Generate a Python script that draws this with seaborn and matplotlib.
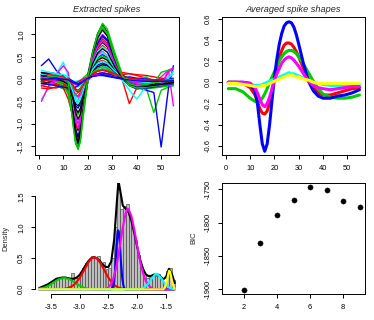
import numpy as np
import pandas as pd
import matplotlib
matplotlib.use("Agg")
import matplotlib.pyplot as plt
import seaborn as sns

# ---- data -----------------------------------------------------------------
# extracted spike waveforms (sample index vs amplitude)
spike_x = [1, 4, 7, 10, 12, 14, 15, 16, 17, 18, 20, 22, 24, 26, 28, 31, 34, 37, 40, 44, 47, 50, 53, 55]
spike_traces = [
    [0.05, 0.08, 0.06, 0.02, -0.15, -0.95, -1.40, -1.55, -1.28, -0.78, 0.10, 0.62, 1.02, 1.22, 1.05, 0.52, 0.10, -0.06, -0.12, -0.14, -0.10, -0.06, -0.03, 0.00],
    [0.02, -0.05, -0.10, -0.15, -0.30, -0.45, -0.52, -0.48, -0.35, -0.20, 0.05, 0.25, 0.38, 0.42, 0.36, 0.18, 0.02, -0.08, -0.13, -0.15, -0.12, -0.08, -0.06, -0.05],
    [-0.08, -0.10, -0.15, -0.22, -0.25, -0.22, -0.18, -0.12, -0.05, 0.02, 0.12, 0.22, 0.30, 0.33, 0.30, 0.20, 0.08, -0.02, -0.10, -0.16, -0.18, -0.16, -0.15, -0.14],
    [0.02, 0.00, -0.02, -0.05, -0.30, -0.90, -1.20, -1.30, -1.05, -0.60, 0.05, 0.45, 0.80, 0.95, 0.85, 0.40, 0.02, -0.15, -0.22, -0.20, -0.17, -0.13, -0.10, -0.08],
    [0.05, 0.02, 0.00, -0.02, -0.03, -0.05, -0.05, -0.04, -0.02, 0.00, 0.04, 0.08, 0.10, 0.12, 0.10, 0.05, 0.01, -0.02, -0.04, -0.05, -0.04, -0.03, -0.02, -0.02],
    [0.00, 0.02, -0.02, -0.08, -0.15, -0.30, -0.38, -0.40, -0.32, -0.18, 0.02, 0.18, 0.28, 0.32, 0.27, 0.12, 0.00, -0.06, -0.09, -0.10, -0.08, -0.06, -0.05, -0.05],
    [0.10, 0.05, 0.08, 0.00, -0.10, -0.60, -1.00, -1.15, -0.95, -0.50, 0.08, 0.45, 0.72, 0.85, 0.75, 0.38, 0.08, -0.04, -0.09, -0.11, -0.10, -0.08, -0.06, -0.05],
    [-0.05, -0.10, -0.12, -0.20, -0.45, -0.85, -1.05, -1.10, -0.90, -0.55, 0.00, 0.40, 0.65, 0.75, 0.66, 0.32, 0.00, -0.55, -0.20, -0.15, -0.12, -0.10, -0.09, -0.08],
    [-0.05, 0.00, -0.05, -0.10, -0.35, -0.90, -1.25, -1.45, -1.30, -0.85, 0.00, 0.55, 1.00, 1.25, 1.12, 0.60, 0.12, -0.06, -0.15, -0.22, -0.75, -0.25, -0.18, -0.15],
    [0.30, 0.45, 0.20, 0.05, -0.05, -0.40, -0.60, -0.65, -0.55, -0.35, 0.00, 0.30, 0.48, 0.55, 0.48, 0.25, 0.00, -0.12, -0.18, -0.25, -0.30, -1.52, -0.20, 0.30],
    [-0.45, -0.20, 0.10, 0.38, 0.05, -0.20, -0.40, -0.50, -0.40, -0.20, 0.05, 0.20, 0.30, 0.32, 0.28, 0.12, -0.02, -0.25, -0.45, -0.15, -0.05, -0.02, 0.05, 0.10],
    [-0.50, -0.15, 0.10, 0.30, 0.15, -0.80, -1.20, -1.35, -1.10, -0.60, 0.05, 0.35, 0.55, 0.62, 0.52, 0.25, 0.05, -0.05, -0.10, -0.15, -0.10, 0.05, 0.20, -0.60],
    [-0.10, -0.08, -0.05, -0.02, -0.20, -0.70, -1.10, -1.30, -1.15, -0.70, -0.05, 0.40, 0.70, 0.82, 0.72, 0.35, 0.05, -0.08, -0.12, -0.15, -0.14, -0.12, -0.10, -0.08],
    [-0.20, -0.22, -0.18, -0.15, -0.20, -0.30, -0.35, -0.38, -0.30, -0.18, 0.02, 0.15, 0.22, 0.25, 0.22, 0.12, 0.05, 0.00, -0.05, -0.10, -0.12, -0.10, -0.08, -0.08],
    [0.10, 0.05, 0.02, -0.05, -0.20, -0.50, -0.70, -0.80, -0.68, -0.40, 0.00, 0.28, 0.45, 0.52, 0.46, 0.22, 0.02, -0.12, -0.18, -0.22, -0.20, -0.18, -0.15, -0.12],
    [-0.05, -0.02, 0.00, 0.00, -0.05, -0.15, -0.25, -0.30, -0.25, -0.15, 0.05, 0.20, 0.32, 0.36, 0.32, 0.16, 0.02, -0.08, -0.12, -0.15, -0.14, -0.12, -0.10, -0.10],
    [0.15, 0.12, 0.10, 0.05, 0.00, -0.10, -0.15, -0.18, -0.14, -0.08, 0.04, 0.15, 0.22, 0.26, 0.22, 0.10, 0.00, -0.05, -0.08, -0.10, -0.08, -0.06, -0.04, -0.03],
    [0.12, 0.10, 0.05, 0.00, -0.10, -0.60, -0.95, -1.10, -0.95, -0.55, 0.05, 0.50, 0.85, 1.00, 0.88, 0.42, 0.05, -0.10, -0.15, -0.18, -0.15, -0.12, -0.08, -0.05],
    [0.00, 0.02, 0.05, 0.03, -0.05, -0.40, -0.65, -0.75, -0.65, -0.40, 0.00, 0.25, 0.42, 0.48, 0.42, 0.20, 0.02, -0.05, -0.08, -0.10, -0.08, -0.06, -0.05, -0.04],
    [0.08, 0.02, -0.05, -0.10, -0.25, -0.65, -0.90, -1.00, -0.85, -0.50, 0.00, 0.42, 0.75, 0.90, 0.80, 0.40, 0.08, -0.05, -0.10, -0.12, -0.10, -0.08, -0.08, -0.06],
    [0.05, 0.00, -0.05, -0.15, -0.30, -0.35, -0.35, -0.30, -0.22, -0.12, 0.05, 0.18, 0.25, 0.28, 0.24, 0.12, 0.02, -0.05, -0.10, -0.12, -0.12, -0.10, -0.08, -0.06],
    [0.10, 0.15, 0.12, 0.08, -0.10, -0.75, -1.20, -1.45, -1.25, -0.75, -0.05, 0.45, 0.80, 0.98, 0.88, 0.42, 0.05, -0.12, -0.18, -0.20, -0.18, -0.15, -0.12, -0.08],
    [0.00, 0.05, 0.08, 0.10, 0.05, -0.20, -0.35, -0.42, -0.35, -0.20, 0.05, 0.30, 0.50, 0.60, 0.52, 0.25, 0.02, -0.08, -0.10, -0.12, -0.10, -0.08, -0.06, -0.04],
    [-0.15, -0.10, -0.05, -0.05, -0.10, -0.25, -0.35, -0.40, -0.35, -0.25, -0.05, 0.10, 0.18, 0.20, 0.18, 0.10, 0.02, -0.05, -0.08, -0.10, -0.12, -0.15, 0.20, 0.25],
    [0.15, 0.12, 0.10, 0.08, 0.00, -0.30, -0.55, -0.60, -0.50, -0.30, 0.02, 0.18, 0.28, 0.32, 0.30, 0.18, 0.08, 0.02, -0.02, -0.05, -0.05, -0.05, -0.04, -0.03],
    [-0.15, -0.18, -0.20, -0.15, -0.12, -0.10, -0.08, -0.06, -0.03, 0.00, 0.05, 0.10, 0.12, 0.14, 0.12, 0.08, 0.15, 0.12, 0.10, 0.08, 0.05, 0.02, 0.00, -0.02],
    [0.02, -0.02, -0.05, -0.08, -0.12, -1.00, -1.40, -1.58, -1.40, -0.90, -0.05, 0.50, 0.90, 1.15, 1.00, 0.48, 0.05, -0.15, -0.20, -0.18, -0.16, -0.14, -0.12, -0.10],
    [-0.10, -0.12, -0.15, -0.18, -0.20, -0.20, -0.18, -0.15, -0.10, -0.05, 0.02, 0.08, 0.12, 0.14, 0.12, 0.08, 0.04, 0.00, -0.05, -0.08, -0.10, -0.12, -0.12, -0.10],
    [0.10, 0.08, 0.12, 0.05, -0.10, -0.55, -0.85, -1.00, -0.85, -0.50, 0.00, 0.38, 0.62, 0.72, 0.65, 0.30, 0.02, -0.10, -0.14, -0.16, -0.14, -0.12, -0.10, -0.08],
    [0.00, 0.05, 0.08, 0.02, -0.02, -0.10, -0.12, -0.12, -0.08, -0.02, 0.04, 0.08, 0.10, 0.10, 0.08, 0.04, 0.02, 0.00, -0.02, -0.04, -0.05, -0.05, -0.04, -0.04],
    [-0.02, 0.00, 0.02, 0.00, -0.08, -0.80, -1.25, -1.42, -1.20, -0.70, 0.05, 0.55, 0.92, 1.10, 0.96, 0.45, 0.06, -0.08, -0.12, -0.14, -0.12, -0.10, -0.08, -0.06],
    [0.05, 0.10, 0.08, 0.05, 0.00, -0.15, -0.22, -0.25, -0.20, -0.12, 0.02, 0.12, 0.18, 0.20, 0.17, 0.08, 0.10, 0.12, 0.08, 0.02, -0.02, -0.05, -0.06, -0.06],
    [0.00, 0.02, 0.00, -0.02, -0.10, -0.20, -0.25, -0.28, -0.22, -0.12, 0.04, 0.15, 0.20, 0.22, 0.20, 0.10, 0.05, 0.02, 0.00, 0.05, -0.10, 0.15, 0.20, 0.22],
    [0.05, 0.00, -0.02, 0.00, 0.02, -0.05, -0.08, -0.10, -0.08, -0.05, 0.02, 0.06, 0.08, 0.10, 0.08, 0.04, 0.02, 0.05, 0.02, 0.00, -0.02, -0.02, 0.00, 0.02],
    [0.20, 0.15, 0.12, 0.10, 0.00, -0.30, -0.50, -0.55, -0.45, -0.28, 0.02, 0.22, 0.35, 0.40, 0.35, 0.18, 0.05, -0.02, -0.05, -0.08, -0.06, -0.05, 0.02, 0.18],
    [0.05, 0.00, -0.05, -0.02, -0.05, -0.50, -0.85, -1.00, -0.85, -0.45, 0.05, 0.45, 0.72, 0.85, 0.75, 0.35, 0.04, -0.08, -0.12, -0.15, -0.14, -0.12, 0.15, 0.25],
    [0.08, 0.05, 0.00, -0.05, -0.12, -0.45, -0.75, -0.90, -0.78, -0.45, 0.00, 0.35, 0.58, 0.68, 0.60, 0.28, 0.02, -0.10, -0.15, -0.16, -0.14, -0.12, -0.10, -0.08],
    [-0.05, -0.02, 0.00, 0.02, 0.00, -0.15, -0.25, -0.30, -0.25, -0.15, 0.02, 0.12, 0.18, 0.20, 0.18, 0.12, 0.05, 0.02, 0.00, -0.02, -0.02, -0.03, -0.02, -0.02],
    [0.02, 0.05, 0.05, 0.02, -0.05, -1.05, -1.45, -1.55, -1.35, -0.80, 0.05, 0.60, 1.00, 1.18, 1.02, 0.48, 0.08, -0.10, -0.15, -0.12, -0.08, -0.05, -0.03, 0.00],
    [0.00, 0.00, 0.02, 0.00, -0.02, -0.08, -0.10, -0.12, -0.10, -0.06, 0.02, 0.06, 0.08, 0.08, 0.06, 0.03, 0.00, -0.02, -0.04, -0.05, -0.05, -0.05, -0.04, -0.04],
]
r_palette = ["black", "#FF0000", "#00CD00", "#0000FF", "#00FFFF", "#FF00FF"]

# averaged spike shapes, one per cluster
avg_x = [1, 4, 7, 10, 12, 13, 14, 15, 16, 17, 18, 19, 20, 21, 22, 23, 24, 25, 26, 27, 28, 29, 30, 32, 34, 36, 38, 40, 43, 46, 49, 52, 55]
avg_red     = [0.00, 0.00, -0.01, -0.05, -0.12, -0.18, -0.25, -0.29, -0.30, -0.27, -0.19, -0.08, 0.04, 0.14, 0.23, 0.30, 0.35, 0.37, 0.37, 0.36, 0.33, 0.29, 0.24, 0.13, 0.03, -0.05, -0.10, -0.12, -0.12, -0.10, -0.08, -0.06, -0.05]
avg_green   = [-0.06, -0.06, -0.09, -0.15, -0.18, -0.19, -0.18, -0.15, -0.11, -0.06, 0.00, 0.05, 0.10, 0.15, 0.20, 0.24, 0.27, 0.29, 0.30, 0.30, 0.29, 0.27, 0.24, 0.17, 0.09, 0.01, -0.06, -0.11, -0.14, -0.15, -0.15, -0.14, -0.12]
avg_blue    = [0.00, 0.00, 0.00, -0.01, -0.08, -0.20, -0.40, -0.58, -0.65, -0.58, -0.40, -0.17, 0.05, 0.22, 0.36, 0.46, 0.53, 0.56, 0.57, 0.56, 0.52, 0.45, 0.36, 0.17, 0.01, -0.08, -0.13, -0.15, -0.15, -0.13, -0.12, -0.10, -0.07]
avg_cyan    = [-0.01, -0.01, -0.02, -0.02, -0.03, -0.03, -0.03, -0.02, -0.01, 0.00, 0.01, 0.02, 0.03, 0.04, 0.05, 0.06, 0.07, 0.08, 0.09, 0.08, 0.08, 0.07, 0.06, 0.04, 0.02, 0.00, -0.01, -0.02, -0.03, -0.03, -0.03, -0.02, -0.02]
avg_magenta = [0.00, 0.00, 0.00, -0.01, -0.05, -0.10, -0.16, -0.21, -0.23, -0.20, -0.14, -0.06, 0.02, 0.08, 0.13, 0.18, 0.21, 0.23, 0.24, 0.23, 0.21, 0.18, 0.15, 0.08, 0.01, -0.03, -0.05, -0.06, -0.07, -0.06, -0.05, -0.04, -0.04]
avg_yellow  = [-0.01, -0.01, -0.02, -0.03, -0.04, -0.04, -0.04, -0.03, -0.03, -0.02, -0.01, 0.00, 0.01, 0.02, 0.03, 0.04, 0.05, 0.06, 0.07, 0.07, 0.06, 0.05, 0.05, 0.03, 0.02, 0.00, -0.01, -0.01, -0.01, -0.01, -0.01, -0.01, -0.01]
avg_series = [("#FF0000", avg_red), ("#00CD00", avg_green), ("#0000FF", avg_blue),
              ("#00FFFF", avg_cyan), ("#FF00FF", avg_magenta), ("#FFFF00", avg_yellow)]

# histogram of projected spikes (density per 0.05 bin)
hist_edges = [round(-3.70 + 0.05 * i, 2) for i in range(48)]
hist_density = [0.02, 0.04, 0.05, 0.08, 0.10, 0.14, 0.17, 0.19, 0.18, 0.20, 0.16, 0.26,
                0.18, 0.19, 0.24, 0.34, 0.42, 0.48, 0.54, 0.50, 0.53, 0.40, 0.44, 0.33,
                0.35, 0.50, 1.00, 1.62, 1.30, 1.35, 1.38, 1.20, 1.00, 0.80, 0.55, 0.36,
                0.24, 0.18, 0.20, 0.25, 0.22, 0.24, 0.18, 0.10, 0.30, 0.34, 0.15]

dens_x = [-3.70, -3.65, -3.60, -3.55, -3.50, -3.45, -3.40, -3.35, -3.30, -3.25, -3.20, -3.15, -3.10, -3.05,
          -3.00, -2.95, -2.90, -2.85, -2.80, -2.75, -2.70, -2.65, -2.60, -2.55, -2.50, -2.45, -2.40, -2.35,
          -2.325, -2.30, -2.25, -2.20, -2.15, -2.10, -2.05, -2.00, -1.95, -1.90, -1.85, -1.80, -1.75, -1.70,
          -1.65, -1.60, -1.55, -1.50, -1.45, -1.40, -1.35]
dens_y = [0.02, 0.04, 0.06, 0.08, 0.11, 0.14, 0.17, 0.18, 0.19, 0.19, 0.18, 0.17, 0.17, 0.19,
          0.23, 0.30, 0.38, 0.45, 0.50, 0.52, 0.50, 0.46, 0.40, 0.36, 0.36, 0.45, 0.80, 1.45,
          1.75, 1.62, 1.35, 1.30, 1.24, 1.10, 0.90, 0.68, 0.48, 0.33, 0.24, 0.21, 0.22, 0.24,
          0.24, 0.21, 0.16, 0.20, 0.33, 0.25, 0.10]

comp_green_x = [-3.70, -3.65, -3.60, -3.55, -3.50, -3.45, -3.40, -3.35, -3.30, -3.25, -3.20, -3.15, -3.10, -3.05, -3.00, -2.95, -2.90, -2.85, -2.80, -1.35]
comp_green_y = [0.01, 0.02, 0.03, 0.05, 0.08, 0.11, 0.14, 0.165, 0.178, 0.18, 0.17, 0.15, 0.12, 0.09, 0.06, 0.035, 0.02, 0.01, 0.0, 0.0]
comp_red_x = [-3.70, -3.30, -3.20, -3.15, -3.10, -3.05, -3.00, -2.95, -2.90, -2.85, -2.80, -2.75, -2.70, -2.65, -2.60, -2.55, -2.50, -2.45, -2.40, -2.35, -2.30, -2.20, -1.35]
comp_red_y = [0.0, 0.0, 0.02, 0.04, 0.07, 0.12, 0.18, 0.26, 0.34, 0.43, 0.49, 0.52, 0.50, 0.44, 0.36, 0.27, 0.19, 0.12, 0.07, 0.04, 0.02, 0.0, 0.0]
comp_blue_x = [-3.70, -2.45, -2.42, -2.40, -2.38, -2.36, -2.34, -2.33, -2.32, -2.30, -2.28, -2.26, -2.24, -2.22, -2.20, -1.35]
comp_blue_y = [0.0, 0.0, 0.04, 0.12, 0.35, 0.70, 0.93, 0.95, 0.93, 0.72, 0.42, 0.18, 0.06, 0.01, 0.0, 0.0]
comp_magenta_x = [-3.70, -2.55, -2.50, -2.45, -2.40, -2.35, -2.30, -2.25, -2.20, -2.17, -2.15, -2.10, -2.05, -2.00, -1.95, -1.90, -1.85, -1.80, -1.75, -1.70, -1.35]
comp_magenta_y = [0.0, 0.0, 0.03, 0.09, 0.21, 0.42, 0.70, 1.00, 1.23, 1.30, 1.29, 1.18, 0.96, 0.70, 0.45, 0.26, 0.13, 0.06, 0.02, 0.0, 0.0]
comp_cyan_x = [-3.70, -1.95, -1.90, -1.85, -1.80, -1.75, -1.70, -1.68, -1.65, -1.60, -1.55, -1.50, -1.45, -1.40, -1.35]
comp_cyan_y = [0.0, 0.0, 0.02, 0.05, 0.10, 0.17, 0.23, 0.25, 0.24, 0.20, 0.13, 0.07, 0.03, 0.01, 0.0]
comp_yellow_x = [-3.70, -1.55, -1.52, -1.50, -1.48, -1.46, -1.445, -1.43, -1.41, -1.39, -1.37, -1.35]
comp_yellow_y = [0.0, 0.0, 0.03, 0.08, 0.17, 0.26, 0.30, 0.28, 0.20, 0.11, 0.04, 0.01]
components = [("#00CD00", comp_green_x, comp_green_y), ("#FF0000", comp_red_x, comp_red_y),
              ("#0000FF", comp_blue_x, comp_blue_y), ("#FF00FF", comp_magenta_x, comp_magenta_y),
              ("#00FFFF", comp_cyan_x, comp_cyan_y), ("#FFFF00", comp_yellow_x, comp_yellow_y)]

# BIC by number of clusters
n_clusters = [2, 3, 4, 5, 6, 7, 8, 9]
bic = [-1901, -1830, -1788, -1766, -1746, -1751, -1768, -1777]

# ---- style ----------------------------------------------------------------
sns.set_theme(style="ticks")
plt.rcParams['font.family'] = ['Liberation Sans', 'DejaVu Sans']
plt.rcParams['axes.unicode_minus'] = False
TICK_FS = 5.4

W, H = 374, 320
fig = plt.figure(figsize=(W / 100, H / 100), dpi=100)
fig.patch.set_facecolor('white')

def box(l, t, r, b):
    return fig.add_axes([l / W, 1 - b / H, (r - l) / W, (b - t) / H])

def r_axes(ax, frame=True):
    for s in ax.spines.values():
        s.set_color('black')
        s.set_linewidth(0.7)
        s.set_visible(frame)
    ax.set_facecolor('white')
    ax.tick_params(axis='both', length=2.6, width=0.7, color='black', labelsize=TICK_FS,
                   labelcolor='black', pad=4.5)
    ax.tick_params(axis='y', labelrotation=90)
    for lab in ax.get_yticklabels():
        lab.set_va('center')
    ax.set_xlabel('')
    ax.set_ylabel('')

ax1 = box(35, 17, 179, 155)
ax2 = box(222, 17, 365, 155)
ax3 = box(35, 183, 179, 293.7)
ax4 = box(222, 183, 365, 293.7)

# ---- panel 1: extracted spikes ---------------------------------------------
for i, tr in enumerate(spike_traces):
    sns.lineplot(x=spike_x, y=tr, color=r_palette[i % 6], lw=1.0, ax=ax1,
                 estimator=None, sort=False)
ax1.set_xlim(-1.6, 57.3)
ax1.set_ylim(-1.70, 1.39)
ax1.set_xticks([0, 10, 20, 30, 40, 50])
ax1.set_yticks([-1.5, -1.0, -0.5, 0.0, 0.5, 1.0])
ax1.set_yticklabels(['-1.5', '-1.0', '-0.5', '0.0', '0.5', '1.0'])
r_axes(ax1)

# ---- panel 2: averaged spike shapes ----------------------------------------
for col, ys in avg_series:
    sns.lineplot(x=avg_x, y=ys, color=col, lw=2.2, ax=ax2, estimator=None, sort=False)
ax2.set_xlim(-1.6, 57.3)
ax2.set_ylim(-0.685, 0.615)
ax2.set_xticks([0, 10, 20, 30, 40, 50])
ax2.set_yticks([-0.6, -0.4, -0.2, 0.0, 0.2, 0.4, 0.6])
ax2.set_yticklabels(['-0.6', '-0.4', '-0.2', '0.0', '0.2', '0.4', '0.6'])
r_axes(ax2)

# ---- panel 3: histogram with mixture components ----------------------------
centers = [(hist_edges[i] + hist_edges[i + 1]) / 2 for i in range(len(hist_density))]
sns.histplot(x=centers, weights=hist_density, bins=hist_edges, color='#BEBEBE',
             edgecolor='#404040', linewidth=0.45, alpha=1.0, ax=ax3)
sns.lineplot(x=dens_x, y=dens_y, color='black', lw=1.5, ax=ax3, estimator=None, sort=False)
for col, xs, ys in components:
    sns.lineplot(x=xs, y=ys, color=col, lw=1.5, ax=ax3, estimator=None, sort=False)
ax3.set_xlim(-3.772, -1.276)
ax3.set_ylim(-0.071, 1.714)
ax3.set_xticks([-3.5, -3.0, -2.5, -2.0, -1.5])
ax3.set_xticklabels(['-3.5', '-3.0', '-2.5', '-2.0', '-1.5'])
ax3.set_yticks([0.0, 0.5, 1.0, 1.5])
ax3.set_yticklabels(['0.0', '0.5', '1.0', '1.5'])
r_axes(ax3, frame=False)
ax3.spines['left'].set_visible(True)
ax3.spines['bottom'].set_visible(True)
ax3.spines['left'].set_bounds(0, 1.5)
ax3.spines['bottom'].set_bounds(-3.5, -1.5)

# ---- panel 4: BIC -------------------------------------------------------------
sns.scatterplot(x=n_clusters, y=bic, color='black', s=14, edgecolor='black',
                linewidth=0.3, ax=ax4)
ax4.set_xlim(0.68, 9.32)
ax4.set_ylim(-1907, -1740.5)
ax4.set_xticks([2, 4, 6, 8])
ax4.set_yticks([-1900, -1850, -1800, -1750])
r_axes(ax4)

# ---- titles and axis labels -----------------------------------------------
fig.text((35 + 179) / 2 / W, 1 - 9.3 / H, 'Extracted spikes', style='italic',
         fontsize=6.6, ha='center', va='center')
fig.text((222 + 365) / 2 / W, 1 - 9.3 / H, 'Averaged spike shapes', style='italic',
         fontsize=6.6, ha='center', va='center')
fig.text(6 / W, 1 - 238 / H, 'Density', rotation=90, fontsize=TICK_FS,
         ha='center', va='center')
fig.text(194 / W, 1 - 238 / H, 'BIC', rotation=90, fontsize=TICK_FS,
         ha='center', va='center')

fig.savefig('out.png', dpi=100, facecolor='white')
